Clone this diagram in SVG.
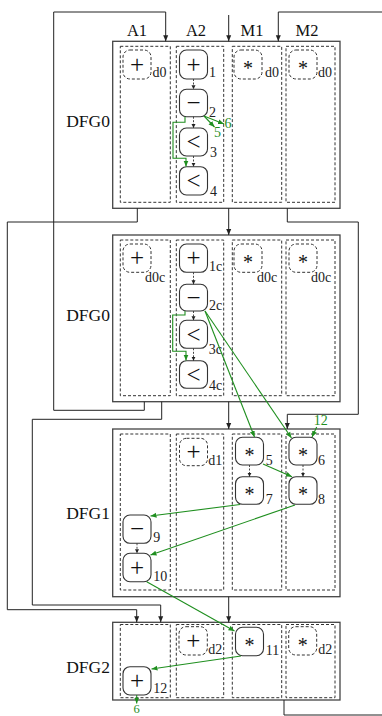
<svg xmlns="http://www.w3.org/2000/svg" width="382" height="716" viewBox="0 0 382 716">
<style>
.box{fill:#fff;stroke:#444;stroke-width:1.3}
.col{fill:none;stroke:#333;stroke-width:1;stroke-dasharray:3,2}
.n{fill:#fff;stroke:#333;stroke-width:1.1}
.nd{fill:#fff;stroke:#333;stroke-width:1;stroke-dasharray:3,2}
.op{font-family:"Liberation Serif","DejaVu Serif",serif;font-size:25px;text-anchor:middle;fill:#111}
.ast{font-family:"Liberation Serif","DejaVu Serif",serif;font-size:20px;text-anchor:middle;fill:#111}
.lb{font-family:"Liberation Serif","DejaVu Serif",serif;font-size:14px;fill:#222}
.hd{font-family:"Liberation Serif","DejaVu Serif",serif;font-size:16.5px;text-anchor:middle;fill:#111}
.dfg{font-family:"Liberation Serif","DejaVu Serif",serif;font-size:17.5px;text-anchor:end;fill:#111}
.gl{font-family:"Liberation Serif","DejaVu Serif",serif;font-size:14px;fill:#1f8f1f;text-anchor:middle}
.c{fill:none;stroke:#222;stroke-width:1}
.g{fill:none;stroke:#1f8f1f;stroke-width:1.1}
.d{fill:none;stroke:#333;stroke-width:0.9;stroke-dasharray:2,1.5}
</style>
<defs>
<marker id="ab" markerUnits="userSpaceOnUse" markerWidth="7" markerHeight="6" refX="6" refY="3" orient="auto"><path d="M0,0.5 L6,3 L0,5.5 z" fill="#222"/></marker>
<marker id="ag" markerUnits="userSpaceOnUse" markerWidth="7" markerHeight="6" refX="6" refY="3" orient="auto"><path d="M0,0.5 L6,3 L0,5.5 z" fill="#1f8f1f"/></marker>
<marker id="as" markerUnits="userSpaceOnUse" markerWidth="5" markerHeight="5" refX="4" refY="2" orient="auto"><path d="M0,0 L4,2 L0,4 z" fill="#222"/></marker>
</defs>

<g id="headers">
<text class="hd" x="137" y="36">A1</text>
<text class="hd" x="196" y="36">A2</text>
<text class="hd" x="252" y="36">M1</text>
<text class="hd" x="307" y="36">M2</text>
</g>

<g id="box1">
<rect class="box" x="112.7" y="41.3" width="227.3" height="167"/>
<rect class="col" x="120.3" y="46.3" width="50" height="156"/>
<rect class="col" x="176.3" y="46.3" width="47.4" height="156"/>
<rect class="col" x="232.3" y="46.3" width="49.4" height="156"/>
<rect class="col" x="286" y="46.3" width="49" height="156"/>
<text class="dfg" x="110" y="126.5">DFG0</text>
</g>
<g id="box2">
<rect class="box" x="112.7" y="235" width="227.3" height="166.7"/>
<rect class="col" x="120.3" y="240" width="50" height="155.7"/>
<rect class="col" x="176.3" y="240" width="47.4" height="155.7"/>
<rect class="col" x="232.3" y="240" width="49.4" height="155.7"/>
<rect class="col" x="286" y="240" width="49" height="155.7"/>
<text class="dfg" x="110" y="321">DFG0</text>
</g>
<g id="box3">
<rect class="box" x="112.7" y="429" width="227.3" height="167.7"/>
<rect class="col" x="120.3" y="434" width="50" height="156"/>
<rect class="col" x="176.3" y="434" width="47.4" height="156"/>
<rect class="col" x="232.3" y="434" width="49.4" height="156"/>
<rect class="col" x="286" y="434" width="49" height="156"/>
<text class="dfg" x="110" y="518.5">DFG1</text>
</g>
<g id="box4">
<rect class="box" x="112.7" y="622.3" width="227.3" height="77.7"/>
<rect class="col" x="120.3" y="624.5" width="50" height="73.2"/>
<rect class="col" x="176.3" y="624.5" width="47.4" height="73.2"/>
<rect class="col" x="232.3" y="624.5" width="49.4" height="73.2"/>
<rect class="col" x="286" y="624.5" width="49" height="73.2"/>
<text class="dfg" x="110" y="672.7">DFG2</text>
</g>

<g id="b1_a1d"><rect class="nd" x="123" y="50" width="28" height="29" rx="7"/><text class="op" x="137" y="72.5">+</text><text class="lb" x="152.5" y="77">d0</text></g>
<g id="b1_n1"><rect class="n" x="179.5" y="50" width="28" height="29" rx="7"/><text class="op" x="193.5" y="72.5">+</text><text class="lb" x="209" y="77">1</text></g>
<g id="b1_m1d"><rect class="nd" x="234" y="50" width="28" height="29" rx="7"/><text class="ast" x="248" y="75">*</text><text class="lb" x="265" y="77">d0</text></g>
<g id="b1_m2d"><rect class="nd" x="289" y="50" width="28" height="29" rx="7"/><text class="ast" x="303" y="75">*</text><text class="lb" x="318" y="77">d0</text></g>
<g id="b1_n2"><rect class="n" x="179.5" y="89.3" width="28" height="27.4" rx="7"/><text class="op" x="193.5" y="111.3">−</text><text class="lb" x="209" y="116.5">2</text></g>
<g id="b1_n3"><rect class="n" x="179.5" y="128" width="28" height="28" rx="7"/><text class="op" x="193.5" y="150.3">&lt;</text><text class="lb" x="210" y="156.5">3</text></g>
<g id="b1_n4"><rect class="n" x="179.5" y="166.7" width="28" height="28.3" rx="7"/><text class="op" x="193.5" y="189.3">&lt;</text><text class="lb" x="210" y="195.5">4</text></g>

<g id="b2_a1d"><rect class="nd" x="123" y="244" width="28" height="28.3" rx="7"/><text class="op" x="137" y="266.3">+</text><text class="lb" x="145" y="282">d0c</text></g>
<g id="b2_n1c"><rect class="n" x="179.5" y="244" width="28" height="28.3" rx="7"/><text class="op" x="193.5" y="266.3">+</text><text class="lb" x="209" y="270.5">1c</text></g>
<g id="b2_m1d"><rect class="nd" x="234" y="244" width="28" height="28.3" rx="7"/><text class="ast" x="248" y="268.5">*</text><text class="lb" x="257" y="282">d0c</text></g>
<g id="b2_m2d"><rect class="nd" x="289" y="244" width="28" height="28.3" rx="7"/><text class="ast" x="303" y="268.5">*</text><text class="lb" x="311" y="282">d0c</text></g>
<g id="b2_n2c"><rect class="n" x="179.5" y="284.3" width="28" height="26.7" rx="7"/><text class="op" x="193.5" y="305.8">−</text><text class="lb" x="209" y="310">2c</text></g>
<g id="b2_n3c"><rect class="n" x="179.5" y="320.3" width="28" height="28" rx="7"/><text class="op" x="193.5" y="342.6">&lt;</text><text class="lb" x="208.7" y="354">3c</text></g>
<g id="b2_n4c"><rect class="n" x="179.5" y="360.7" width="28" height="27.6" rx="7"/><text class="op" x="193.5" y="382.8">&lt;</text><text class="lb" x="209" y="390">4c</text></g>

<g id="b3_a2d"><rect class="nd" x="179.5" y="438.3" width="28" height="27.4" rx="7"/><text class="op" x="193.5" y="460.3">+</text><text class="lb" x="208.3" y="465">d1</text></g>
<g id="b3_n5"><rect class="n" x="235.5" y="437.3" width="28" height="27.7" rx="7"/><text class="ast" x="249.5" y="461.5">*</text><text class="lb" x="265.7" y="465">5</text></g>
<g id="b3_n6"><rect class="n" x="289" y="437.3" width="28" height="27.7" rx="7"/><text class="ast" x="303" y="461.5">*</text><text class="lb" x="318" y="465">6</text></g>
<g id="b3_n7"><rect class="n" x="235.5" y="476.7" width="28" height="27.6" rx="7"/><text class="ast" x="249.5" y="501">*</text><text class="lb" x="265.7" y="503.5">7</text></g>
<g id="b3_n8"><rect class="n" x="289" y="476.7" width="28" height="27.6" rx="7"/><text class="ast" x="303" y="501">*</text><text class="lb" x="318" y="503.5">8</text></g>
<g id="b3_n9"><rect class="n" x="123" y="515" width="28" height="28.3" rx="7"/><text class="op" x="137" y="537.3">−</text><text class="lb" x="153.3" y="541.5">9</text></g>
<g id="b3_n10"><rect class="n" x="123" y="553.3" width="28" height="28.4" rx="7"/><text class="op" x="137" y="575.8">+</text><text class="lb" x="153.3" y="580.7">10</text></g>

<g id="b4_a2d"><rect class="nd" x="179" y="626.7" width="28.3" height="28.3" rx="7"/><text class="op" x="193.2" y="649.3">+</text><text class="lb" x="208.3" y="654.3">d2</text></g>
<g id="b4_n11"><rect class="n" x="235.5" y="627.3" width="28" height="28.4" rx="7"/><text class="ast" x="249.5" y="652">*</text><text class="lb" x="265.7" y="655">11</text></g>
<g id="b4_m2d"><rect class="nd" x="288.7" y="626.7" width="28" height="28.3" rx="7"/><text class="ast" x="302.7" y="651.5">*</text><text class="lb" x="318.3" y="654.3">d2</text></g>
<g id="b4_n12"><rect class="n" x="123" y="666.7" width="28" height="28.3" rx="7"/><text class="op" x="137" y="689.3">+</text><text class="lb" x="153.3" y="693">12</text></g>

<g id="connectors">
<path class="c" d="M144.3 401.7 V410.3 H53.7 V12 H165.7 V41.3" marker-end="url(#ab)"/>
<path class="c" d="M228.7 15 V41.3" marker-end="url(#ab)"/>
<path class="c" d="M382 12 H278.3 V41.3" marker-end="url(#ab)"/>
<path class="c" d="M228.7 208.3 V235" marker-end="url(#ab)"/>
<path class="c" d="M137.3 208.3 V222 H7.3 V609.7 H136.7 V622.3" marker-end="url(#ab)"/>
<path class="c" d="M287.3 208.3 V222 H358.3 V414.3 H287.3 V429" marker-end="url(#ab)"/>
<path class="c" d="M228.7 401.7 V429" marker-end="url(#ab)"/>
<path class="c" d="M161.7 401.7 V419.3 H32.3 V605 H160.7 V622.3" marker-end="url(#ab)"/>
<path class="c" d="M228.7 596.7 V622.3" marker-end="url(#ab)"/>
<path class="c" d="M284 700 V715 H382"/>

<path class="d" d="M193.5 79 V89.3" marker-end="url(#as)"/>
<path class="d" d="M193.5 116.7 V128" marker-end="url(#as)"/>
<path class="d" d="M193.5 156 V166.7" marker-end="url(#as)"/>
<path class="d" d="M193.5 272.3 V284.3" marker-end="url(#as)"/>
<path class="d" d="M193.5 311 V320.3" marker-end="url(#as)"/>
<path class="d" d="M193.5 348.3 V360.7" marker-end="url(#as)"/>
<path class="d" d="M249.5 465 V476.7" marker-end="url(#as)"/>
<path class="d" d="M303 465 V476.7" marker-end="url(#as)"/>
<path class="d" d="M137 543.3 V553.3" marker-end="url(#as)"/>

<path class="g" d="M185 116.7 V122.3 H173 V158.3 H186 V166.5" marker-end="url(#ag)"/>
<path class="g" d="M204 116 L214.5 127" marker-end="url(#ag)"/>
<path class="g" d="M204 116 L224 124" marker-end="url(#ag)"/>
<text class="gl" x="217.5" y="137.3">5</text>
<text class="gl" x="228" y="128.3">6</text>

<path class="g" d="M185 311 V315 H172.7 V351.3 H186 V360.5" marker-end="url(#ag)"/>
<path class="g" d="M205 311 L254.5 437" marker-end="url(#ag)"/>
<path class="g" d="M205 311 L291.5 438" marker-end="url(#ag)"/>

<text class="gl" x="320.8" y="425">12</text>
<path class="g" d="M316.7 427 L312 437" marker-end="url(#ag)"/>
<path class="g" d="M263 464 L292 476.7" marker-end="url(#ag)"/>
<path class="g" d="M240 504.5 L150.5 516" marker-end="url(#ag)"/>
<path class="g" d="M295 505 L150.5 555" marker-end="url(#ag)"/>
<path class="g" d="M146.7 581.7 L234.5 631" marker-end="url(#ag)"/>
<path class="g" d="M241 656 L151.5 669" marker-end="url(#ag)"/>
<path class="g" d="M136.7 695 V703.5" marker-end="url(#ag)"/>
<text class="gl" x="136.7" y="712.5" style="font-size:12.5px">6</text>
</g>
</svg>
